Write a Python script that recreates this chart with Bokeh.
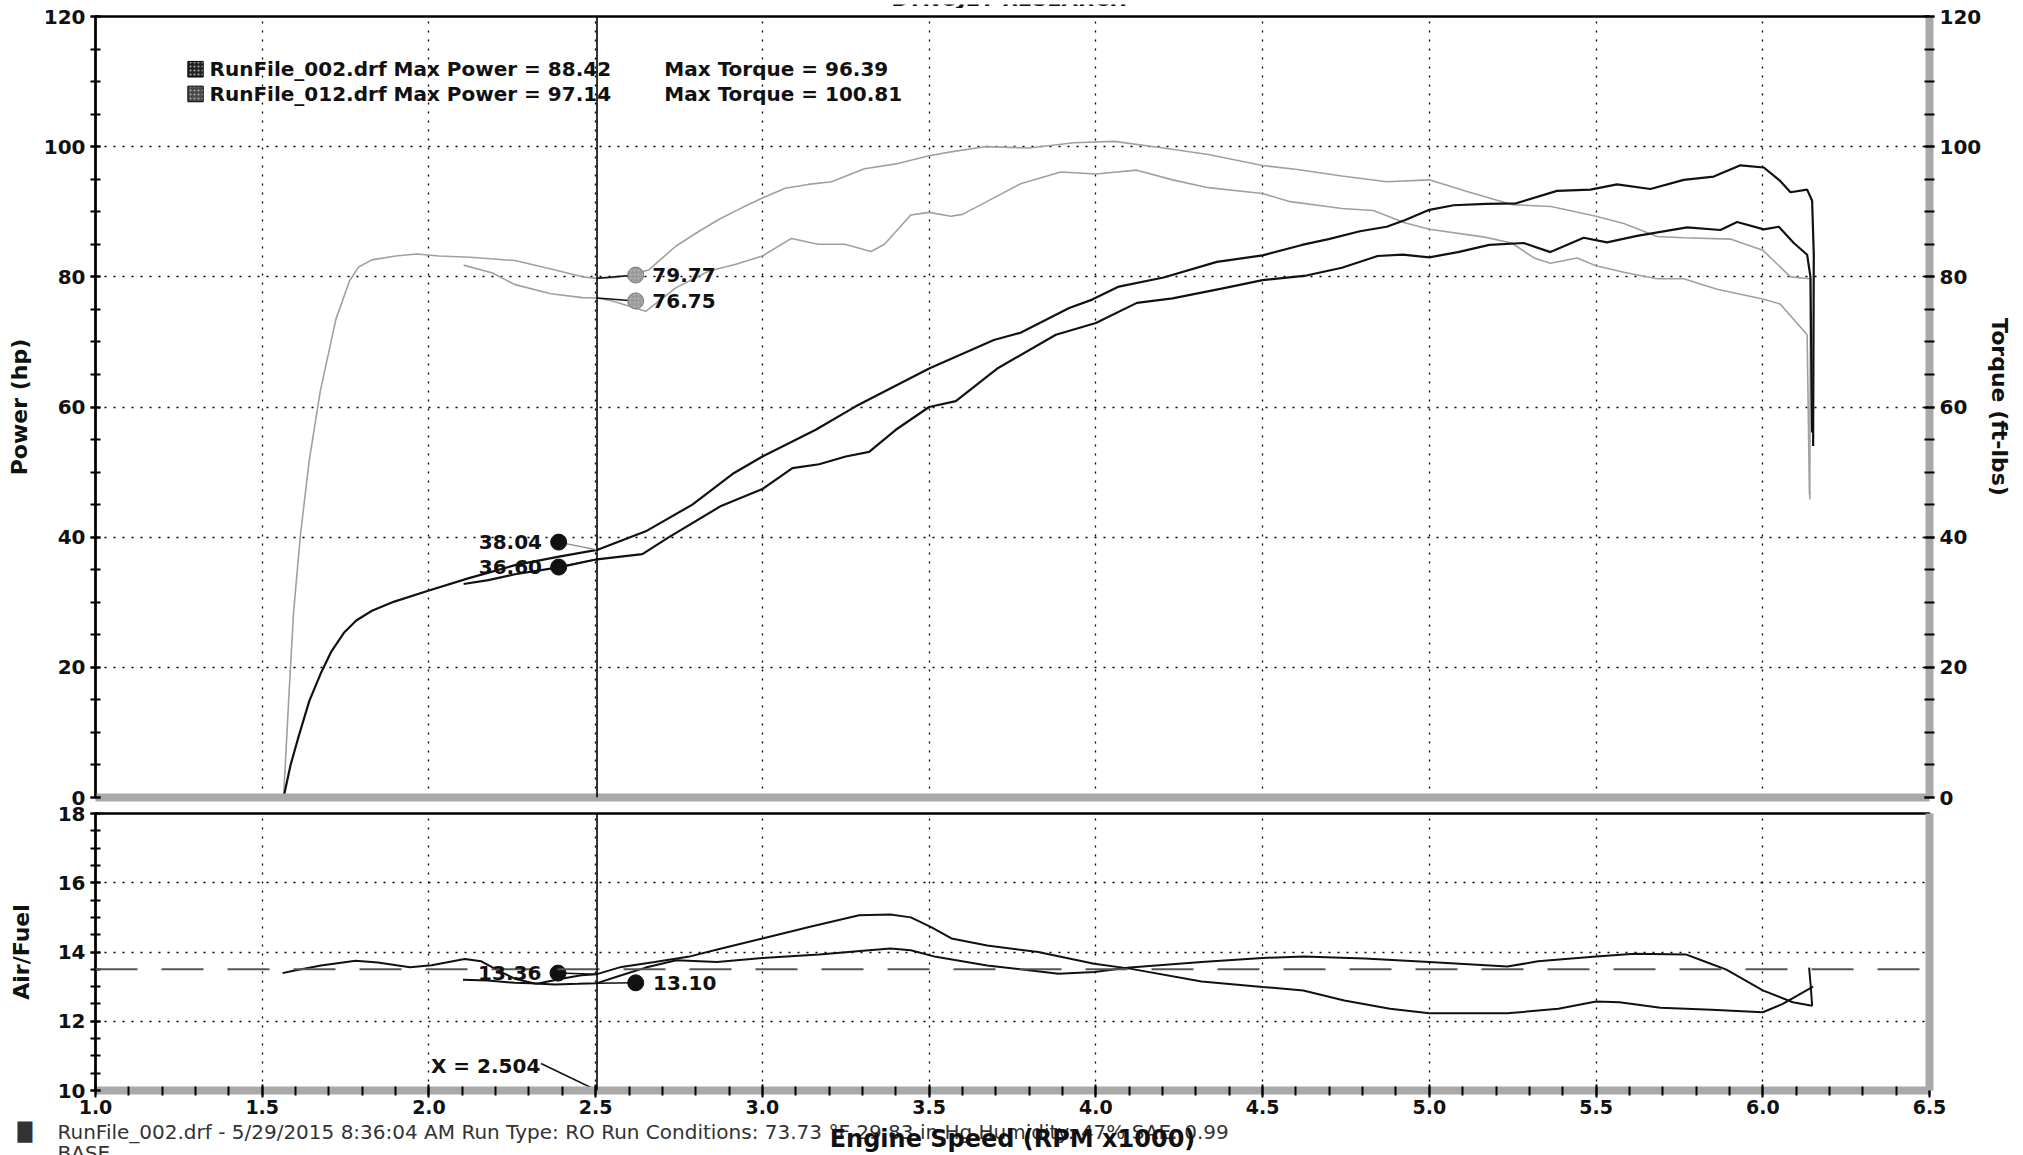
from bokeh.plotting import figure
from bokeh.models import (Range1d, LinearAxis, SingleIntervalTicker, FixedTicker,
                          Span, Label, NumeralTickFormatter)
from bokeh.layouts import column
from bokeh.embed import file_html
from bokeh.resources import INLINE

FONT = "DejaVu Sans"

# ---------------- data ----------------
run_names = ["RunFile_002.drf", "RunFile_012.drf"]
max_power = [88.42, 97.14]
max_torque = [96.39, 100.81]

# RunFile_012 (starts at 1.56k rpm)
r012_pw_rpm = [1.564, 1.585, 1.607, 1.641, 1.675, 1.708, 1.745, 1.782, 1.829, 1.896, 2.0, 2.12,
               2.258, 2.39, 2.504, 2.654, 2.79, 2.91, 3.0, 3.16, 3.28, 3.5, 3.694, 3.774, 3.92,
               3.989, 4.069, 4.203, 4.363, 4.5, 4.618, 4.698, 4.792, 4.872, 4.926, 5.0, 5.073,
               5.17, 5.26, 5.383, 5.483, 5.563, 5.663, 5.763, 5.853, 5.933, 6.003, 6.053, 6.083,
               6.133, 6.148, 6.153, 6.151]
r012_pw = [0.0, 5.0, 9.0, 14.8, 19.0, 22.5, 25.3, 27.2, 28.7, 30.1, 31.8, 33.7,
           35.7, 37.0, 38.04, 41.0, 45.0, 49.7, 52.4, 56.5, 60.1, 65.9, 70.3, 71.4, 75.2,
           76.5, 78.5, 79.9, 82.3, 83.3, 84.9, 85.8, 87.0, 87.7, 88.7, 90.3, 91.0,
           91.2, 91.3, 93.2, 93.4, 94.2, 93.5, 94.9, 95.4, 97.14, 96.8, 94.7, 93.0,
           93.4, 91.7, 83.4, 54.0]

r012_tq_rpm = [1.564, 1.581, 1.594, 1.614, 1.641, 1.674, 1.721, 1.762, 1.789, 1.829, 1.9, 1.963,
               2.03, 2.124, 2.258, 2.366, 2.46, 2.504, 2.56, 2.61, 2.66, 2.74, 2.81, 2.869, 2.938,
               3.0, 3.068, 3.137, 3.207, 3.306, 3.406, 3.5, 3.565, 3.667, 3.80, 3.934, 4.055,
               4.203, 4.337, 4.5, 4.604, 4.738, 4.872, 5.0, 5.113, 5.247, 5.365, 5.5, 5.583,
               5.683, 5.763, 5.903, 6.0, 6.083, 6.143, 6.141]
r012_tq = [0.0, 16.6, 28.4, 40.1, 51.8, 62.4, 73.5, 79.4, 81.5, 82.6, 83.2, 83.5,
           83.2, 83.0, 82.5, 81.2, 80.0, 79.77, 79.9, 80.3, 81.1, 84.7, 87.0, 88.8, 90.6,
           92.1, 93.6, 94.2, 94.6, 96.6, 97.4, 98.6, 99.2, 100.0, 99.8, 100.6, 100.81,
           99.8, 98.8, 97.1, 96.5, 95.5, 94.6, 94.9, 93.1, 91.1, 90.8, 89.3, 88.2,
           86.2, 86.0, 85.8, 84.1, 80.0, 79.7, 45.8]

r012_afr_rpm = [1.561, 1.59, 1.676, 1.78, 1.847, 1.943, 2.008, 2.107, 2.157, 2.207, 2.257, 2.317,
                2.377, 2.447, 2.504, 2.577, 2.65, 2.742, 2.864, 3.0, 3.17, 3.32, 3.384, 3.445,
                3.52, 3.674, 3.888, 3.995, 4.102, 4.317, 4.5, 4.622, 4.806, 5.0, 5.234, 5.326,
                5.5, 5.616, 5.769, 5.83, 5.891, 6.0, 6.09, 6.148, 6.144, 6.139]
r012_afr = [13.39, 13.45, 13.61, 13.75, 13.70, 13.56, 13.62, 13.80, 13.73, 13.47, 13.23, 13.09,
            13.06, 13.08, 13.10, 13.33, 13.55, 13.76, 13.71, 13.83, 13.93, 14.05, 14.10, 14.05,
            13.86, 13.61, 13.37, 13.42, 13.55, 13.71, 13.83, 13.87, 13.81, 13.71, 13.58, 13.73,
            13.87, 13.95, 13.93, 13.71, 13.49, 12.89, 12.55, 12.45, 12.99, 13.55]

# RunFile_002 (starts at 2.1k rpm)
r002_pw_rpm = [2.104, 2.178, 2.258, 2.393, 2.504, 2.64, 2.72, 2.876, 3.0, 3.09, 3.17, 3.25, 3.32,
               3.40, 3.5, 3.58, 3.707, 3.88, 4.0, 4.123, 4.23, 4.377, 4.5, 4.631, 4.738, 4.845,
               4.92, 5.0, 5.086, 5.18, 5.283, 5.363, 5.463, 5.533, 5.623, 5.773, 5.873, 5.923,
               6.003, 6.048, 6.093, 6.133, 6.143, 6.148]
r002_pw = [32.8, 33.4, 34.3, 35.4, 36.60, 37.4, 40.0, 44.8, 47.4, 50.6, 51.2, 52.4, 53.1,
           56.5, 60.0, 60.9, 66.0, 71.1, 72.9, 76.0, 76.7, 78.2, 79.5, 80.2, 81.4, 83.2,
           83.4, 83.0, 83.8, 84.9, 85.2, 83.8, 86.0, 85.3, 86.3, 87.6, 87.2, 88.42,
           87.3, 87.7, 85.2, 83.4, 80.0, 56.1]

r002_tq_rpm = [2.104, 2.191, 2.258, 2.366, 2.46, 2.504, 2.55, 2.65, 2.74, 2.84, 2.918, 3.0, 3.087,
               3.167, 3.247, 3.326, 3.366, 3.445, 3.5, 3.565, 3.60, 3.667, 3.774, 3.895, 4.0,
               4.123, 4.23, 4.337, 4.5, 4.578, 4.738, 4.832, 4.926, 5.0, 5.166, 5.247, 5.314,
               5.363, 5.443, 5.5, 5.583, 5.683, 5.763, 5.863, 6.0, 6.053, 6.133, 6.14]
r002_tq = [81.8, 80.6, 78.8, 77.4, 76.8, 76.75, 76.3, 74.7, 78.3, 80.9, 81.9, 83.2, 85.9,
           85.0, 85.0, 83.9, 85.0, 89.5, 89.9, 89.3, 89.6, 91.4, 94.3, 96.1, 95.8,
           96.39, 94.9, 93.7, 92.8, 91.6, 90.5, 90.2, 88.3, 87.3, 86.1, 85.2, 82.9,
           82.1, 82.9, 81.7, 80.7, 79.7, 79.7, 78.1, 76.6, 75.8, 71.1, 46.5]

r002_afr_rpm = [2.102, 2.177, 2.257, 2.327, 2.397, 2.457, 2.504, 2.577, 2.677, 2.777, 2.877, 3.0,
                3.14, 3.29, 3.384, 3.445, 3.506, 3.567, 3.674, 3.827, 3.995, 4.102, 4.317, 4.5,
                4.622, 4.745, 4.882, 5.0, 5.234, 5.387, 5.5, 5.57, 5.693, 5.846, 6.0, 6.06, 6.151]
r002_afr = [13.20, 13.18, 13.11, 13.09, 13.23, 13.33, 13.36, 13.57, 13.71, 13.86, 14.10, 14.39,
            14.72, 15.06, 15.08, 15.0, 14.72, 14.39, 14.19, 14.0, 13.66, 13.52, 13.15, 12.99,
            12.89, 12.60, 12.36, 12.23, 12.23, 12.36, 12.57, 12.55, 12.39, 12.33, 12.26, 12.50, 13.0]

AFR_TARGET = 13.5
CURSOR_X = 2.504
cursor_power = [38.04, 36.60]     # RunFile_012, RunFile_002
cursor_torque = [79.77, 76.75]
cursor_afr = [13.36, 13.10]

x_ticks_interval = 0.5
header_text = "DYNOJET RESEARCH"
x_title = "Engine Speed (RPM x1000)"
footer_text = ("RunFile_002.drf - 5/29/2015 8:36:04 AM  Run Type: RO  Run Conditions: "
               "73.73 \u00b0F 29.83 in Hg  Humidity: 47%  SAE: 0.99")
footer_text2 = "BASE"

# ---------------- styling helpers ----------------
W = 2015
BLACK = "#111111"
SHADOW = "#a9a9a9"
TORQUE_C = "#a0a0a0"

xr = Range1d(1.0, 6.5)


def style_grid(p, xt, yt):
    p.xgrid.ticker = xt
    p.ygrid.ticker = yt
    for g in (p.xgrid, p.ygrid):
        g.grid_line_color = "black"
        g.grid_line_dash = "2 7"
        g.grid_line_width = 1.3


def style_axis(ax):
    ax.axis_line_color = "black"
    ax.axis_line_width = 2
    ax.major_tick_line_color = "black"
    ax.major_tick_line_width = 2
    ax.minor_tick_line_color = "black"
    ax.minor_tick_line_width = 2
    ax.major_tick_in = 5
    ax.major_tick_out = 5
    ax.minor_tick_in = 5
    ax.minor_tick_out = 5
    ax.major_label_text_font = FONT
    ax.major_label_text_font_style = "bold"
    ax.major_label_text_font_size = "20px"
    ax.major_label_text_color = BLACK
    ax.major_label_standoff = 5
    ax.axis_label_text_font = FONT
    ax.axis_label_text_font_style = "bold"
    ax.axis_label_text_font_size = "22px"
    ax.axis_label_text_color = BLACK


def shadow_axis(ax):
    ax.ticker = FixedTicker(ticks=[], minor_ticks=[])
    ax.axis_line_color = SHADOW
    ax.axis_line_width = 8
    ax.major_tick_line_color = None
    ax.minor_tick_line_color = None
    ax.major_tick_out = 0
    ax.minor_tick_out = 0
    ax.major_tick_in = 0
    ax.minor_tick_in = 0
    ax.major_label_standoff = 0
    ax.major_label_text_font_size = "0px"


def make_label(p, x, y, text, align="left", size="20px", style="bold", color=BLACK,
               xo=0, yo=0, baseline="middle"):
    p.add_layout(Label(x=x, y=y, text=text, text_align=align, text_baseline=baseline,
                       text_font=FONT, text_font_style=style, text_font_size=size,
                       text_color=color, x_offset=xo, y_offset=yo))


def text_strip(height):
    # a plain strip whose frame is the whole canvas; coordinates are pixels (y up)
    s = figure(width=W, height=height, x_range=Range1d(0, W), y_range=Range1d(0, height),
               output_backend="svg", toolbar_location=None,
               x_axis_location=None, y_axis_location=None,
               min_border_left=0, min_border_right=0, min_border_top=0, min_border_bottom=0)
    s.frame_align = False
    s.outline_line_color = None
    s.grid.visible = False
    return s


# ---------------- header strip (text mostly cut off, as in the print) ----------------
p0 = text_strip(8)
make_label(p0, 1010, 2, header_text, align="center", size="21px", style="bold italic",
           baseline="bottom")

# ---------------- top panel: power / torque ----------------
p1 = figure(width=W, height=798, x_range=xr, y_range=Range1d(0, 120),
            output_backend="svg", toolbar_location=None,
            min_border_left=95, min_border_right=85, min_border_top=8, min_border_bottom=9)
p1.outline_line_color = "black"
p1.outline_line_width = 2.5
xt1 = SingleIntervalTicker(interval=x_ticks_interval, num_minor_ticks=5)
yt1 = SingleIntervalTicker(interval=20, num_minor_ticks=4)
style_grid(p1, xt1, yt1)

p1.yaxis.ticker = yt1
style_axis(p1.yaxis[0])
p1.yaxis.axis_label = "Power (hp)"
p1.yaxis.axis_label_standoff = 9
shadow_axis(p1.xaxis[0])

ra = LinearAxis(ticker=yt1, axis_label="Torque (ft-lbs)")
style_axis(ra)
ra.axis_line_color = SHADOW
ra.axis_line_width = 8
ra.axis_label_standoff = 3
p1.add_layout(ra, "right")

# curves
p1.line(r012_tq_rpm, r012_tq, line_color=TORQUE_C, line_width=1.6)
p1.line(r002_tq_rpm, r002_tq, line_color=TORQUE_C, line_width=1.6)
p1.line(r012_pw_rpm, r012_pw, line_color=BLACK, line_width=2.2)
p1.line(r002_pw_rpm, r002_pw, line_color=BLACK, line_width=2.2)

p1.add_layout(Span(location=CURSOR_X, dimension="height", line_color="black", line_width=1.6))

# cursor read-outs (marker placement offsets are layout only)
pw_mark_x = CURSOR_X - 0.115
pw_mark_y = [cursor_power[0] + 1.2, cursor_power[1] - 1.2]
tq_mark_x = CURSOR_X + 0.116
tq_mark_y = [cursor_torque[0] + 0.5, cursor_torque[1] - 0.45]
p1.segment(CURSOR_X, cursor_power[0], pw_mark_x, pw_mark_y[0], line_color="#888888", line_width=1.2)
p1.segment(CURSOR_X, cursor_power[1], pw_mark_x, pw_mark_y[1], line_color=BLACK, line_width=1.5)
for v, my in zip(cursor_torque, tq_mark_y):
    p1.segment(CURSOR_X, v, tq_mark_x, my, line_color=BLACK, line_width=1.5)
p1.scatter([pw_mark_x] * 2, pw_mark_y, size=16, fill_color=BLACK, line_color=BLACK)
p1.scatter([tq_mark_x] * 2, tq_mark_y, size=16, fill_color="#9a9a9a", line_color="#7a7a7a",
           hatch_pattern="dot", hatch_color="#bbbbbb", hatch_scale=4)
for v, my in zip(cursor_power, pw_mark_y):
    make_label(p1, pw_mark_x - 0.05, my, f"{v:.2f}", align="right")
for v, my in zip(cursor_torque, tq_mark_y):
    make_label(p1, tq_mark_x + 0.05, my, f"{v:.2f}", align="left")

# legend block
leg_y = [111.9, 108.1]
p1.rect([1.30, 1.30], leg_y, width=0.046, height=2.4, fill_color=["#222222", "#4a4a4a"],
        line_color="black", line_width=1, hatch_pattern="dot", hatch_color="#aaaaaa",
        hatch_scale=4)
for name, mp, mt, y in zip(run_names, max_power, max_torque, leg_y):
    make_label(p1, 1.342, y, f"{name} Max Power = {mp:.2f}")
    make_label(p1, 2.706, y, f"Max Torque = {mt:.2f}")

# ---------------- bottom panel: air / fuel ----------------
p2 = figure(width=W, height=315, x_range=xr, y_range=Range1d(10, 18),
            output_backend="svg", toolbar_location=None,
            min_border_left=95, min_border_right=85, min_border_top=7, min_border_bottom=31)
p2.outline_line_color = "black"
p2.outline_line_width = 2.5
xt2 = SingleIntervalTicker(interval=x_ticks_interval, num_minor_ticks=5)
yt2 = SingleIntervalTicker(interval=2, num_minor_ticks=4)
style_grid(p2, xt2, yt2)

p2.yaxis.ticker = yt2
style_axis(p2.yaxis[0])
p2.yaxis.axis_label = "Air/Fuel"
p2.yaxis.axis_label_standoff = 21

bx = p2.xaxis[0]
bx.ticker = xt2
style_axis(bx)
bx.formatter = NumeralTickFormatter(format="0.0")
bx.major_label_text_font_size = "19px"
bx.major_label_standoff = 2
bx.axis_line_color = SHADOW
bx.axis_line_width = 8
bx.major_tick_in = 6
bx.major_tick_out = 7
bx.minor_tick_in = 4
bx.minor_tick_out = 5

ra2 = LinearAxis()
shadow_axis(ra2)
p2.add_layout(ra2, "right")

p2.add_layout(Span(location=AFR_TARGET, dimension="width", line_color="#555555",
                   line_dash="42 24", line_width=2))
p2.line(r012_afr_rpm, r012_afr, line_color=BLACK, line_width=2)
p2.line(r002_afr_rpm, r002_afr, line_color=BLACK, line_width=2)
p2.add_layout(Span(location=CURSOR_X, dimension="height", line_color="black", line_width=1.6))

# AFR read-outs: RunFile_002 (13.36) on the left, RunFile_012 (13.10) on the right
afr_mark = [(CURSOR_X - 0.117, cursor_afr[0] + 0.03), (CURSOR_X + 0.116, cursor_afr[1] + 0.01)]
for v, (mx, my) in zip(cursor_afr, afr_mark):
    p2.segment(CURSOR_X, v, mx, my, line_color=BLACK, line_width=1.5)
p2.scatter([m[0] for m in afr_mark], [m[1] for m in afr_mark], size=16,
           fill_color=BLACK, line_color=BLACK)
make_label(p2, afr_mark[0][0] - 0.05, afr_mark[0][1], f"{cursor_afr[0]:.2f}", align="right")
make_label(p2, afr_mark[1][0] + 0.052, afr_mark[1][1], f"{cursor_afr[1]:.2f}", align="left")

# cursor position tag
p2.segment(CURSOR_X - 0.168, 10.78, CURSOR_X, 10.0, line_color=BLACK, line_width=1.5)
make_label(p2, CURSOR_X - 0.17, 10.72, f"X = {CURSOR_X:.3f}", align="right")

# ---------------- footer strip: axis title over the run information ----------------
p3 = text_strip(34)
make_label(p3, 17, 25, "\u2588", size="19px", style="normal", color="#333333")
make_label(p3, 57, 24, footer_text, size="20px", style="normal", color="#333333")
make_label(p3, 57, 3, footer_text2, size="20px", style="normal", color="#333333")
make_label(p3, 1012, 17, x_title, align="center", size="24px", style="bold")

layout = column(p0, p1, p2, p3, spacing=0)
open("out.html", "w").write(file_html(layout, INLINE))
